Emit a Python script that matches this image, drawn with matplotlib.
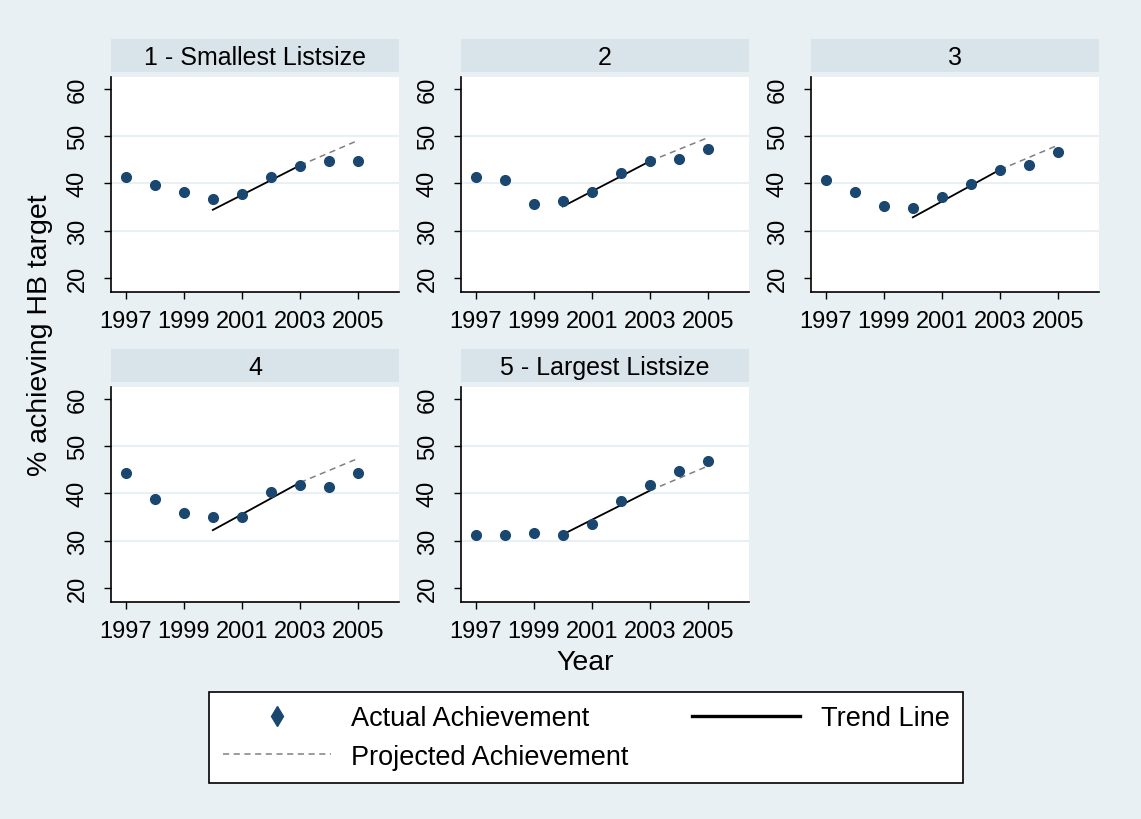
import matplotlib
matplotlib.use("Agg")
import matplotlib.pyplot as plt
from matplotlib.lines import Line2D

plt.rcParams['font.family'] = ['Liberation Sans', 'DejaVu Sans']

# Data
years = [1997, 1998, 1999, 2000, 2001, 2002, 2003, 2004, 2005]
panel_titles = ["1 - Smallest Listsize", "2", "3", "4", "5 - Largest Listsize"]

actual_1 = [41.3, 39.7, 38.2, 36.7, 37.8, 41.3, 43.6, 44.8, 44.8]
actual_2 = [41.3, 40.8, 35.7, 36.2, 38.2, 42.2, 44.8, 45.2, 47.3]
actual_3 = [40.8, 38.2, 35.2, 34.7, 37.2, 39.9, 42.8, 43.8, 46.7]
actual_4 = [44.3, 38.8, 35.8, 34.9, 34.9, 40.2, 41.8, 41.3, 44.3]
actual_5 = [31.1, 31.1, 31.6, 31.1, 33.6, 38.4, 41.8, 44.8, 46.8]

trend_years = [2000, 2003]
trend_1 = [34.4, 43.8]
trend_2 = [35.1, 44.7]
trend_3 = [32.8, 42.9]
trend_4 = [32.2, 42.3]
trend_5 = [31.3, 40.6]

proj_years = [2003, 2005]
proj_1 = [43.8, 49.1]
proj_2 = [44.7, 49.7]
proj_3 = [42.9, 48.1]
proj_4 = [42.3, 47.4]
proj_5 = [40.6, 45.8]

xticks = [1997, 1999, 2001, 2003, 2005]
yticks = [20, 30, 40, 50, 60]

actuals = [actual_1, actual_2, actual_3, actual_4, actual_5]
trends = [trend_1, trend_2, trend_3, trend_4, trend_5]
projs = [proj_1, proj_2, proj_3, proj_4, proj_5]

bg = "#e9f0f3"
strip_col = "#d9e4ea"
navy = "#1a476f"

W, H = 1141, 820
fig = plt.figure(figsize=(W / 100, H / 100), dpi=100, facecolor=bg)

col_left = [111, 461, 811]
row_top = [78, 388]   # top of plot area in px
ax_w, ax_h = 288, 215
strip_h = 33
strip_gap = 5

for i in range(5):
    r, c = divmod(i, 3)
    left = col_left[c] / W
    bottom = 1 - (row_top[r] + ax_h) / H
    ax = fig.add_axes([left, bottom, ax_w / W, ax_h / H])
    ax.set_facecolor("white")

    # strip title
    sb = 1 - (row_top[r] - strip_gap) / H
    sax = fig.add_axes([left, sb, ax_w / W, strip_h / H])
    sax.set_facecolor(strip_col)
    for s in sax.spines.values():
        s.set_visible(False)
    sax.set_xticks([])
    sax.set_yticks([])
    sax.text(0.5, 0.45, panel_titles[i], ha="center", va="center", fontsize=18)

    for y in [30, 40, 50]:
        ax.axhline(y, color=bg, lw=1.5, zorder=0)

    ax.plot(proj_years, projs[i], color="#808080", lw=1.1, ls=(0, (4, 3)), zorder=2)
    ax.plot(trend_years, trends[i], color="black", lw=1.3, zorder=3)
    ax.plot(years, actuals[i], "o", color=navy, ms=7, zorder=4)

    ax.set_xlim(1996.5, 2006.4)
    ax.set_ylim(17, 62.5)
    ax.set_xticks(xticks)
    ax.set_yticks(yticks)
    ax.set_yticklabels([str(v) for v in yticks], rotation=90, va="center")
    ax.tick_params(axis="both", labelsize=17, length=5, width=1)
    ax.tick_params(axis="y", pad=11)
    ax.tick_params(axis="x", pad=8)
    ax.spines["top"].set_visible(False)
    ax.spines["right"].set_visible(False)
    ax.spines["left"].set_linewidth(1.2)
    ax.spines["bottom"].set_linewidth(1.2)

fig.text(40 / W, 1 - 335 / H, "% achieving HB target", rotation=90,
         ha="center", va="center", fontsize=20.5)
fig.text(585 / W, 1 - 663 / H, "Year", ha="center", va="center", fontsize=20.5)

handles = [
    Line2D([], [], ls="none", marker="d", color=navy, ms=10),
    Line2D([], [], color="#808080", lw=1.1, ls=(0, (4, 3))),
    Line2D([], [], color="black", lw=2.4),
]
labels = ["Actual Achievement", "Projected Achievement", "Trend Line"]
leg = fig.legend(handles, labels, ncol=2, loc="center",
                 bbox_to_anchor=(209 / W, 1 - 785 / H, 754 / W, 93 / H),
                 mode="expand", fontsize=19.5, frameon=True, fancybox=False,
                 edgecolor="black", facecolor="white", framealpha=1,
                 handlelength=4.0, handletextpad=0.75, borderaxespad=0,
                 borderpad=0.5, labelspacing=0.45, columnspacing=2)
leg.get_frame().set_linewidth(1.2)

fig.savefig("out.png", dpi=100, facecolor=bg)
